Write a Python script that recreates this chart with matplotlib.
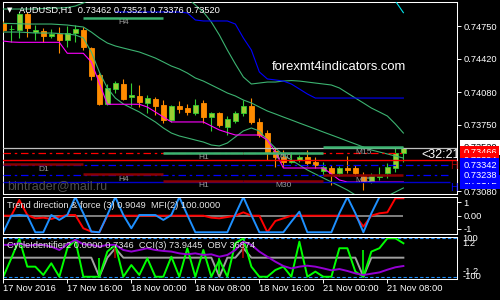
import numpy as np
import matplotlib.pyplot as plt
from matplotlib.transforms import blended_transform_factory

plt.rcParams['font.family'] = ['Liberation Sans', 'DejaVu Sans']

# AUDUSD H1, 17 Nov 2016 08:00 .. 21 Nov 10:00
opens = [0.74780, 0.74716, 0.74710, 0.74869, 0.74689, 0.74700, 0.74652, 0.74669, 0.74608, 0.74679,
         0.74710, 0.74524, 0.74254, 0.73961, 0.74110, 0.74163, 0.74029, 0.74042, 0.73974, 0.74008,
         0.73951, 0.73799, 0.73941, 0.73917, 0.73873, 0.73974, 0.73826, 0.73867, 0.73731, 0.73792,
         0.73867, 0.73944, 0.73776, 0.73667, 0.73488, 0.73424, 0.73374, 0.73394, 0.73424, 0.73371,
         0.73286, 0.73316, 0.73260, 0.73313, 0.73310, 0.73235, 0.73182, 0.73219, 0.73260, 0.73310,
         0.73462]
highs = [0.74801, 0.74760, 0.74892, 0.74892, 0.74760, 0.74733, 0.74720, 0.74743, 0.74753, 0.74760,
         0.74740, 0.74538, 0.74275, 0.74163, 0.74197, 0.74211, 0.74170, 0.74153, 0.74052, 0.74035,
         0.74001, 0.73951, 0.73991, 0.73961, 0.74008, 0.74001, 0.73883, 0.73883, 0.73839, 0.73890,
         0.74001, 0.74025, 0.73816, 0.73698, 0.73515, 0.73495, 0.73475, 0.73445, 0.73495, 0.73424,
         0.73377, 0.73343, 0.73333, 0.73434, 0.73343, 0.73276, 0.73263, 0.73326, 0.73361, 0.73529,
         0.73521]
lows = [0.74689, 0.74588, 0.74629, 0.74642, 0.74608, 0.74591, 0.74629, 0.74477, 0.74541, 0.74591,
        0.74507, 0.74204, 0.73951, 0.73951, 0.74069, 0.74001, 0.73941, 0.73933, 0.73873, 0.73849,
        0.73772, 0.73782, 0.73867, 0.73849, 0.73849, 0.73766, 0.73691, 0.73731, 0.73647, 0.73772,
        0.73839, 0.73759, 0.73627, 0.73394, 0.73326, 0.73323, 0.73364, 0.73374, 0.73333, 0.73313,
        0.73242, 0.73141, 0.73232, 0.73260, 0.73232, 0.73090, 0.73161, 0.73192, 0.73209, 0.73276,
        0.73376]
closes = [0.74710, 0.74722, 0.74869, 0.74727, 0.74710, 0.74652, 0.74669, 0.74608, 0.74679, 0.74720,
          0.74538, 0.74249, 0.73961, 0.74118, 0.74170, 0.74008, 0.74052, 0.73984, 0.74018, 0.73941,
          0.73799, 0.73941, 0.73907, 0.73883, 0.73951, 0.73826, 0.73867, 0.73748, 0.73806, 0.73867,
          0.73941, 0.73776, 0.73647, 0.73478, 0.73427, 0.73374, 0.73389, 0.73424, 0.73361, 0.73343,
          0.73320, 0.73260, 0.73316, 0.73293, 0.73260, 0.73182, 0.73235, 0.73235, 0.73326, 0.73462,
          0.73520]

# indicator lines on the price chart
band_upper = [0.74922, 0.74922, 0.74922, 0.74922, 0.74922, 0.74927, 0.74932, 0.74932, 0.74937, 0.74952,
              0.74983, 0.75023, 0.75074, 0.75135, 0.75195, 0.75236, 0.75266, 0.75286, 0.75296, 0.75296,
              0.75276, 0.75215, 0.75114, 0.75033, 0.74963, 0.74892, 0.74790, 0.74659, 0.74507, 0.74366,
              0.74234, 0.74163, 0.74173, 0.74183, 0.74183, 0.74193, 0.74198, 0.74193, 0.74183, 0.74173,
              0.74163, 0.74153, 0.74123, 0.74072, 0.74021, 0.73971, 0.73920, 0.73880, 0.73839, 0.73758,
              0.73667]
band_mid = [0.74777, 0.74775, 0.74773, 0.74770, 0.74770, 0.74770, 0.74770, 0.74765, 0.74760, 0.74750,
            0.74740, 0.74689, 0.74629, 0.74578, 0.74548, 0.74527, 0.74507, 0.74487, 0.74457, 0.74426,
            0.74386, 0.74345, 0.74315, 0.74274, 0.74224, 0.74193, 0.74153, 0.74113, 0.74072, 0.74042,
            0.74001, 0.73971, 0.73930, 0.73890, 0.73860, 0.73829, 0.73799, 0.73768, 0.73738, 0.73708,
            0.73677, 0.73647, 0.73617, 0.73586, 0.73556, 0.73525, 0.73495, 0.73475, 0.73455, 0.73434,
            0.73414]
band_lower = [0.74689, 0.74689, 0.74689, 0.74684, 0.74679, 0.74679, 0.74679, 0.74674, 0.74669, 0.74659,
              0.74629, 0.74487, 0.74285, 0.74123, 0.74021, 0.73961, 0.73920, 0.73880, 0.73829, 0.73779,
              0.73718, 0.73667, 0.73637, 0.73617, 0.73596, 0.73576, 0.73546, 0.73536, 0.73566, 0.73627,
              0.73688, 0.73718, 0.73688, 0.73596, 0.73515, 0.73445, 0.73394, 0.73343, 0.73293, 0.73252,
              0.73212, 0.73171, 0.73131, 0.73090, 0.73040, 0.72989, 0.72969, 0.72979, 0.73030, 0.73070,
              0.73111]
stop_line = [0.74598, 0.74588, 0.74585, 0.74585, 0.74585, 0.74585, 0.74585, 0.74585, 0.74474, 0.74474,
             0.74474, 0.74386, 0.74173, 0.73958, 0.73958, 0.73958, 0.73958, 0.73958, 0.73930, 0.73880,
             0.73829, 0.73779, 0.73779, 0.73779, 0.73779, 0.73779, 0.73738, 0.73698, 0.73672, 0.73647,
             0.73647, 0.73647, 0.73647, 0.73596, 0.73475, 0.73313, 0.73313, 0.73313, 0.73313, 0.73313,
             0.73313, 0.73252, 0.73192, 0.73171, 0.73171, 0.73171, 0.73171, 0.73171, 0.73171, 0.73171,
             0.73171]
nan = np.nan
blue_line = [nan, nan, nan, nan, nan, nan, nan, nan, nan, nan,
             nan, nan, nan, nan, 0.74892, 0.74892, 0.74892, 0.74892, 0.74892, 0.74892,
             0.74892, 0.74892, 0.74892, 0.74882, 0.74811, 0.74801, 0.74801, 0.74801, 0.74801, 0.74770,
             0.74629, 0.74507, 0.74285, 0.74214, 0.74204, 0.74193, 0.74163, 0.74113, 0.74062, 0.74021,
             0.74021, 0.74021, 0.74021, 0.74021, 0.74021, 0.74021, 0.74021, 0.74021, 0.74021, 0.74021,
             0.74021]
cyan_line = [nan] * 47 + [0.75317, 0.75155, 0.75003, 0.74885]

# support / resistance objects per timeframe (10 bars each)
tf_names = ['D1', 'H4', 'H1', 'M30', 'M15']
tf_start = [0, 10, 20, 30, 40]
res_levels = [nan, 0.74834, 0.73468, 0.73468, 0.73521]
sup_levels = [0.73350, 0.73249, 0.73185, 0.73185, 0.73242]
bid = 0.73520
red_dashdot = 0.73466
red_solid = 0.73394
blue_dash = [0.73342, 0.73238]
blue_solid = 0.73172

price_ticks = [0.74750, 0.74420, 0.74080, 0.73750, 0.73080]
box_prices = [0.73520, 0.73466, 0.73394, 0.73172, 0.73238, 0.73342]
box_colors = ['white', '#ff0000', '#ff0000', '#0000ff', '#0000ff', '#0000ff']
box_text = ['black', 'white', 'white', 'white', 'white', 'white']

# Trend direction & force / MFI
trend_force = [-1.25, 0.00, 0.05, 0.00, -1.25, -1.25, 0.05, -0.32, 0.05, 1.40,
               0.18, -1.20, -1.25, 0.05, 1.40, 0.05, -0.95, 0.05, 0.05, 0.05,
               -0.32, 0.05, 1.40, 0.05, -1.25, -1.25, -1.25, -1.25, -1.25, 0.10,
               1.40, 0.05, -1.25, -1.25, -1.25, -1.25, -0.45, 0.30, -1.25, -1.25,
               -1.25, -1.25, 0.18, 1.40, 0.18, -1.25, 0.18, 1.40, 1.40, 1.40,
               1.40]
mfi = [0.00, 0.00, 1.18, 0.05, -0.20, -0.15, -0.25, -0.07, 0.05, 0.05,
       -0.95, -1.20, -1.25, 0.00, 0.00, 0.00, 0.00, 0.00, 0.00, 0.00,
       0.00, 0.00, 0.00, 0.00, 0.00, 0.00, -0.15, -0.20, -0.10, 0.00,
       0.25, 0.00, 0.00, -1.25, -0.40, -0.20, 0.00, 0.00, 0.00, 0.00,
       0.00, 0.00, 0.00, 0.00, 0.00, -0.82, 0.00, 0.18, 0.25, 1.31,
       1.31]

# CycleIdentifier / CCI / OBV
cci = [-1.19, -0.04, 1.17, -0.56, -0.56, -1.08, -0.35, -1.19, 0.59, 1.11,
       -1.19, -1.19, -1.19, 0.38, 0.80, -1.19, -0.46, -1.08, -0.04, -1.19,
       -1.19, 0.06, -1.19, 0.59, -1.19, 0.48, -1.19, -0.14, -1.19, 0.90,
       1.21, -0.56, -1.19, -1.19, -0.77, -0.56, -1.19, 1.00, -1.19, -0.87,
       -1.19, -1.19, 0.59, 0.59, -0.87, -1.19, 0.38, 0.59, 1.21, 1.21,
       0.90]
obv = [0.80, 0.80, 0.90, 0.75, 0.80, 0.80, 0.69, 0.48, 0.84, 1.11,
       0.84, 0.80, 0.69, 0.80, 0.80, 0.48, 0.38, 0.48, 0.59, 0.48,
       0.42, 0.38, 0.27, 0.21, 0.27, 0.17, 0.21, 0.06, 0.17, 0.48,
       1.00, 0.80, 0.38, 0.06, -0.25, -0.52, -0.67, -0.56, -0.50, -0.56,
       -0.67, -0.79, -0.71, -0.83, -0.98, -1.08, -1.00, -0.92, -0.75, -0.60,
       -0.52]
cycle = [0, 0, 0, 0, 0, 0, 0, 0, 0, 0,
         0, 0, -1.19, 0, 0.59, 0, 0, 0, 0, 0,
         0, 0, 0, 0, 0, 0, 0, -1.19, 0, 0,
         0.59, 0, 0, 0, 0, 0, 0, 0, 0, 0,
         0, 0, 0, 0, 0, -1.19, 0, 0, 0, 0,
         0]
spike_x = [12, 14, 27, 30, 45]
spike_lo = [-1.08, 0.0, -1.0, 0.0, -1.19]
spike_hi = [0.0, 0.59, 0.0, 0.8, 0.48]
spike_col = ['#00ff00', '#b00000', '#00ff00', '#b00000', '#00ff00']

time_ticks = [0, 8, 16, 24, 32, 40, 48]
time_labels = ['17 Nov 2016', '17 Nov 16:00', '18 Nov 00:00', '18 Nov 08:00',
               '18 Nov 16:00', '21 Nov 00:00', '21 Nov 08:00']

FS = 6.7
fig = plt.figure(figsize=(5, 3), dpi=100, facecolor='black')


def panel(x0, y0, x1, y1):
    ax = fig.add_axes([x0 / 500, 1 - y1 / 300, (x1 - x0) / 500, (y1 - y0) / 300])
    ax.set_facecolor('black')
    for s in ax.spines.values():
        s.set_color('white')
        s.set_linewidth(0.75)
    ax.set_xlim(-0.1, 56.7)
    ax.yaxis.tick_right()
    ax.tick_params(axis='y', colors='white', labelsize=FS, length=3, width=0.7, pad=1.5)
    ax.tick_params(axis='x', bottom=False, labelbottom=False)
    return ax


ax1 = panel(2.5, 2, 457, 193.5)
ax2 = panel(2.5, 196.7, 457, 234)
ax3 = panel(2.5, 236.7, 457, 279.3)

x = np.arange(len(opens))
o = np.array(opens)
c = np.array(closes)
bull = c >= o

# --- main chart ---
ax1.set_ylim(0.73055, 0.74993)
ax1.vlines(x, lows, highs, colors=np.where(bull, '#32cd32', '#ff8c00'), lw=0.8, zorder=3)
ax1.bar(x, np.maximum(np.abs(c - o), 0.00002), bottom=np.minimum(o, c), width=0.62,
        color=np.where(bull, '#9acd32', '#ff8c00'), edgecolor=np.where(bull, '#32cd32', '#ff8c00'),
        linewidth=0.6, zorder=4)

for band in (band_upper, band_mid, band_lower):
    ax1.plot(x, band, color='#3cb371', lw=0.8, zorder=5)
ax1.plot(x, blue_line, color='#0000ff', lw=0.8, zorder=5)
ax1.plot(x, stop_line, color='#ff00ff', lw=0.8, zorder=5)
ax1.plot(x, cyan_line, color='#00e5ee', lw=0.8, zorder=5)

ax1.axhline(bid, color='#c0c0c0', lw=0.9, zorder=5)
ax1.hlines(red_dashdot, 0, 50, color='#ff0000', lw=0.9, linestyles=(0, (6, 3, 2, 3)), zorder=5)
ax1.axhline(red_solid, color='#ff0000', lw=1.0, zorder=5)
for lv in blue_dash:
    ax1.hlines(lv, 0, 55.8, color='#0000ff', lw=0.9, linestyles=(0, (6, 3, 2, 3)), zorder=5)
ax1.hlines(blue_solid, 0, 55.8, color='#0000cd', lw=1.0, zorder=5)

for name, start, res, sup in zip(tf_names, tf_start, res_levels, sup_levels):
    mid = start + 5
    if not np.isnan(res):
        ax1.hlines(res, start, start + 10, color='#3cb371', lw=1.8, zorder=6)
        ax1.annotate(name, (mid, res), xytext=(0, -1.2), textcoords='offset points',
                     ha='center', va='top', color='#9a9a9a', fontsize=6, zorder=7)
    ax1.hlines(sup, start, start + 10, color='#8b0000', lw=1.8, zorder=6)
    ax1.annotate(name, (mid, sup), xytext=(0, -1.2), textcoords='offset points',
                 ha='center', va='top', color='#9a9a9a', fontsize=6, zorder=7)

ax1.annotate('H', (55.9, red_solid), xytext=(0, -1), textcoords='offset points',
             ha='left', va='top', color='#b00000', fontsize=7.5, zorder=7, annotation_clip=False)
ax1.annotate('H', (55.9, blue_solid), xytext=(0, -1), textcoords='offset points',
             ha='left', va='top', color='#0000ff', fontsize=7.5, zorder=7, annotation_clip=False)
ax1.text(len(opens) + 1.3, 0.73445, '<32:21', color='white', fontsize=9, va='center',
         ha='left', clip_on=True, zorder=8)

ax1.set_yticks(price_ticks)
ax1.set_yticklabels([f'{p:.5f}' for p in price_ticks])
ax1.set_xticks([])

trans = blended_transform_factory(ax1.transAxes, ax1.transData)
for p, fc, tc in zip(box_prices, box_colors, box_text):
    ax1.text(1.0135, p, f'{p:.5f}', transform=trans, color=tc, fontsize=FS, va='center',
             ha='left', clip_on=False, zorder=10,
             bbox=dict(boxstyle='square,pad=0.3', fc=fc, ec='none'))

# --- trend direction & force panel ---
ax2.set_ylim(-1.38, 1.43)
ax2.hlines(0, 0, 50, color='#808080', lw=1.4)
ax2.plot(x, mfi, color='#ff0000', lw=1.4)
ax2.plot(x, trend_force, color='#1e90ff', lw=1.4)
ax2.set_yticks([1, 0, -1])
ax2.set_yticklabels(['1', '0.00', '-1'])

# --- cycle identifier panel ---
ax3.set_ylim(-1.35, 1.31)
for lv in (1.2, -1.2):
    ax3.axhline(lv, color='#1e90ff', lw=0.8, linestyle=(0, (3, 2)))
ax3.plot(x, cycle, color='#a0a0a0', lw=1.4)
ax3.vlines(spike_x, spike_lo, spike_hi, colors=spike_col, lw=1.2)
ax3.plot(x, cci, color='#00ff00', lw=1.4)
ax3.plot(x, obv, color='#9400d3', lw=1.4)
ax3.set_yticks([])
for val, lab in [(1.2, '100'), (0.9, '1.2'), (-0.87, '-1.2'), (-1.15, '-100')]:
    ax3.text(1.012, val, lab, transform=blended_transform_factory(ax3.transAxes, ax3.transData),
             color='white', fontsize=FS, va='center', ha='left', clip_on=False)
ax3.set_xticks(time_ticks)
ax3.set_xticklabels(time_labels, ha='left')
ax3.tick_params(axis='x', bottom=True, labelbottom=True, colors='white', labelsize=FS,
                length=3, width=0.7, pad=0.5, direction='out')

# --- texts ---
fig.text(7 / 500, 1 - 10 / 300, '\u25bc', color='white', fontsize=5, va='center', family='DejaVu Sans')
fig.text(19 / 500, 1 - 10 / 300, 'AUDUSD,H1  0.73462 0.73521 0.73376 0.73520',
         color='white', fontsize=FS, va='center')
fig.text(272 / 500, 1 - 67 / 300, 'forexmt4indicators.com', color='white', fontsize=9.4, va='center')
fig.text(7 / 500, 1 - 185.7 / 300, 'bintrader@mail.ru', color='#505050', fontsize=9, va='center')
fig.text(7 / 500, 1 - 205 / 300, 'Trend direction & force (3) 0.9049  MFI(2) 100.0000',
         color='#e6e6e6', fontsize=FS, va='center')
fig.text(7 / 500, 1 - 245 / 300, 'CycleIdentifier2 0.0000 0.7346  CCI(3) 73.9445  OBV 36874',
         color='#e6e6e6', fontsize=FS, va='center')

fig.savefig('out.png', dpi=100, facecolor='black')
